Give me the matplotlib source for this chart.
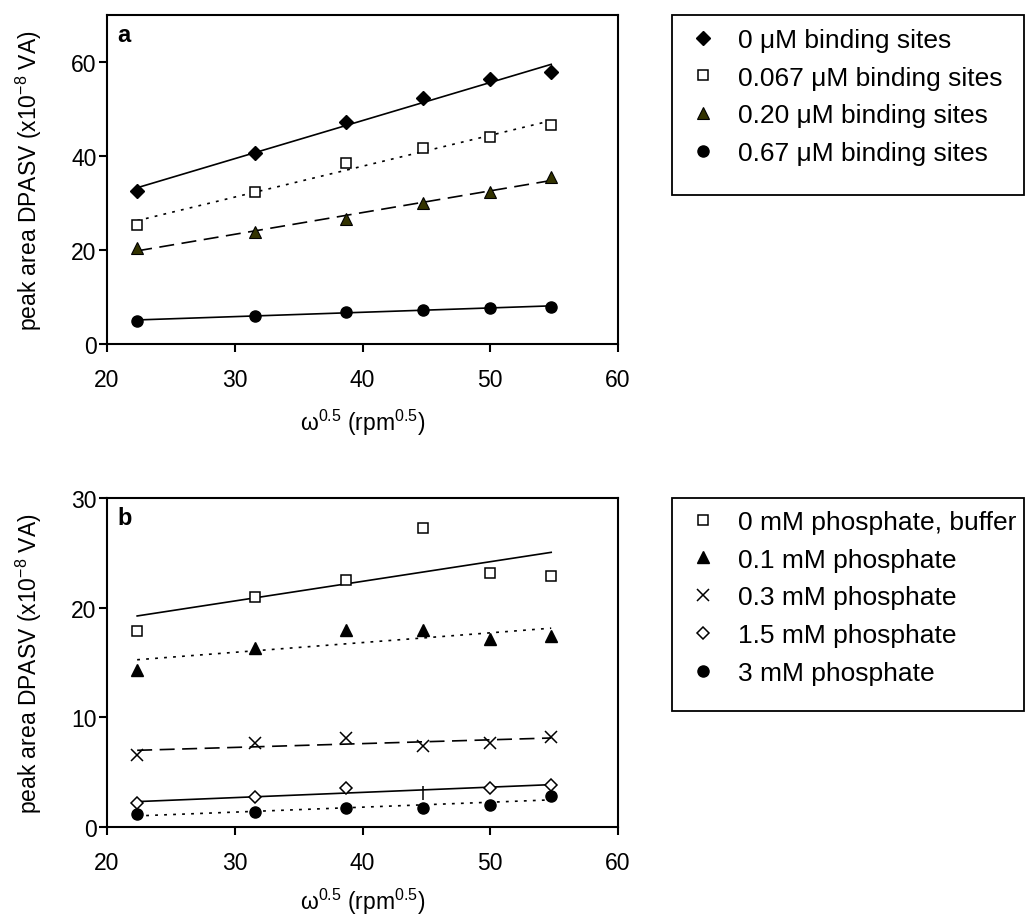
import numpy as np
import matplotlib
matplotlib.use("Agg")
import matplotlib.pyplot as plt
from matplotlib.patches import Rectangle

plt.rcParams['font.family'] = ['Liberation Sans', 'DejaVu Sans']
plt.rcParams['mathtext.fontset'] = 'custom'
plt.rcParams['mathtext.rm'] = 'Liberation Sans'
plt.rcParams['mathtext.it'] = 'Liberation Sans:italic'
plt.rcParams['mathtext.bf'] = 'Liberation Sans:bold'

# rotation rate, square root of rpm (500 ... 3000 rpm)
omega_sqrt = [22.36, 31.62, 38.73, 44.72, 50.00, 54.77]

# panel a: binding sites
a_labels = ["0 μM binding sites", "0.067 μM binding sites",
            "0.20 μM binding sites", "0.67 μM binding sites"]
a_0 = [32.5, 40.7, 47.2, 52.4, 56.4, 57.8]
a_0067 = [25.3, 32.3, 38.5, 41.8, 44.0, 46.5]
a_020 = [20.4, 23.9, 26.7, 29.9, 32.3, 35.6]
a_067 = [5.0, 5.9, 6.9, 7.3, 7.7, 7.9]

# panel b: phosphate
b_labels = ["0 mM phosphate, buffer", "0.1 mM phosphate", "0.3 mM phosphate",
            "1.5 mM phosphate", "3 mM phosphate"]
b_0 = [17.9, 21.0, 22.5, 27.3, 23.2, 22.9]
b_01 = [14.3, 16.3, 18.0, 18.0, 17.1, 17.4]
b_03 = [6.6, 7.7, 8.1, 7.4, 7.7, 8.2]
b_15 = [2.2, 2.7, 3.6, 3.1, 3.6, 3.85]
b_3 = [1.15, 1.4, 1.75, 1.75, 2.05, 2.85]

dotted = (0, (1.7, 3.7))
dashed = (0, (9, 4.5))

W, H = 1026, 920
fig = plt.figure(figsize=(W / 100, H / 100), dpi=100)
ax1 = fig.add_axes([107 / W, 1 - 345 / H, 511 / W, 329 / H])
ax2 = fig.add_axes([107 / W, 1 - 828 / H, 511 / W, 329 / H])

x = np.array(omega_sqrt)


def trend(ax, y, ls):
    k, b = np.polyfit(x, y, 1)
    ax.plot(x, k * x + b, color='black', lw=1.2, ls=ls, zorder=2)


# panel a
trend(ax1, a_0, '-')
trend(ax1, a_0067, dotted)
trend(ax1, a_020, dashed)
trend(ax1, a_067, '-')
ax1.plot(x, a_0, ls='none', marker='D', ms=7, mfc='black', mec='black', label=a_labels[0], zorder=3)
ax1.plot(x, a_0067, ls='none', marker='s', ms=7.5, mfc='white', mec='black', mew=1.1, label=a_labels[1], zorder=3)
ax1.plot(x, a_020, ls='none', marker='^', ms=8.5, mfc='#333300', mec='black', mew=0.8, label=a_labels[2], zorder=3)
ax1.plot(x, a_067, ls='none', marker='o', ms=8, mfc='black', mec='black', label=a_labels[3], zorder=3)
ax1.set_ylim(0, 70)
ax1.set_yticks([0, 20, 40, 60])

# panel b
trend(ax2, b_0, '-')
trend(ax2, b_01, dotted)
trend(ax2, b_03, dashed)
trend(ax2, b_15, '-')
trend(ax2, b_3, dotted)
ax2.plot(x, b_0, ls='none', marker='s', ms=7.5, mfc='white', mec='black', mew=1.1, label=b_labels[0], zorder=3)
ax2.plot(x, b_01, ls='none', marker='^', ms=8.5, mfc='black', mec='black', label=b_labels[1], zorder=3)
ax2.plot(x, b_03, ls='none', marker='x', ms=8, mec='black', mew=1.1, label=b_labels[2], zorder=3)
d_idx = [0, 1, 2, 4, 5]
ax2.plot(x[d_idx], np.array(b_15)[d_idx], ls='none', marker='D', ms=6, mfc='white', mec='black', mew=1.1,
         label=b_labels[3], zorder=3)
ax2.plot(x[3], b_15[3], ls='none', marker='|', ms=10, mec='black', mew=1.1, zorder=3)
ax2.plot(x, b_3, ls='none', marker='o', ms=8, mfc='black', mec='black', label=b_labels[4], zorder=3)
ax2.set_ylim(0, 30)
ax2.set_yticks([0, 10, 20, 30])

ylab = "peak area DPASV (x10$^{-8}$ VA)"
xlab = "ω$^{0.5}$ (rpm$^{0.5}$)"
for ax, letter, xl in [(ax1, 'a', -0.19), (ax2, 'b', -0.18)]:
    ax.set_xlim(20, 60)
    ax.set_xticks([20, 30, 40, 50, 60])
    for s in ax.spines.values():
        s.set_linewidth(1.5)
    ax.tick_params(axis='both', direction='out', length=5.5, width=1.5, labelsize=16.5)
    ax.tick_params(axis='x', pad=12)
    ax.tick_params(axis='y', pad=2)
    ax.set_ylabel(ylab, fontsize=16.5)
    ax.yaxis.set_label_coords(-0.123, 0.5)
    ax.set_xlabel(xlab, fontsize=16.5)
    ax.xaxis.set_label_coords(0.5, xl)
    ax.text(0.02, 0.975, letter, transform=ax.transAxes, fontsize=17, fontweight='bold', va='top', ha='left')

# legend boxes drawn as plain rectangles, entries placed inside them
for top, bottom in [(16, 196), (499, 712)]:
    fig.patches.append(Rectangle((672 / W, 1 - bottom / H), (1024 - 672) / W, (bottom - top) / H,
                                 transform=fig.transFigure, fill=False, ec='black', lw=1.3))

leg_kw = dict(loc='upper left', borderaxespad=0, frameon=False, fontsize=19, handlelength=1.0,
              handletextpad=0.8, borderpad=0, labelspacing=0.52, bbox_transform=fig.transFigure)
ax1.legend(bbox_to_anchor=(690 / W, 1 - 29 / H), **leg_kw)
ax2.legend(bbox_to_anchor=(690 / W, 1 - 511 / H), **leg_kw)

fig.savefig("out.png", dpi=100)
